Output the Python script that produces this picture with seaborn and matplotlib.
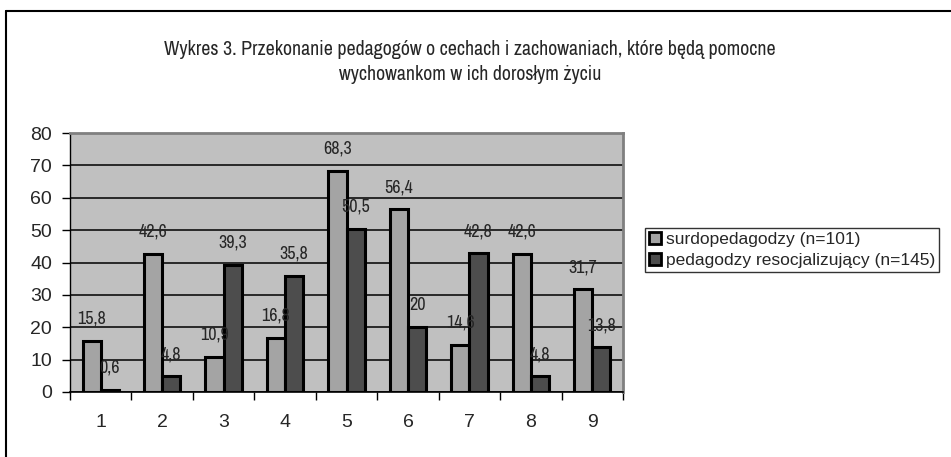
import pandas as pd
import numpy as np
import matplotlib
matplotlib.use('Agg')
import matplotlib.pyplot as plt
import matplotlib.font_manager as fm
from matplotlib.lines import Line2D
import seaborn as sns

# ================== dane ==================
kategorie = ['1', '2', '3', '4', '5', '6', '7', '8', '9']
surdo = [15.8, 42.6, 10.9, 16.8, 68.3, 56.4, 14.6, 42.6, 31.7]
resoc = [0.6, 4.8, 39.3, 35.8, 50.5, 20.0, 42.8, 4.8, 13.8]
serie = ['surdopedagodzy (n=101)', 'pedagodzy resocjalizujący (n=145)']
kolory = ['#A4A4A4', '#4D4D4D']
tytul = ('Wykres 3. Przekonanie pedagogów o cechach i zachowaniach, które będą pomocne\n'
         'wychowankom w ich dorosłym życiu')

df = pd.DataFrame({
    'kat': kategorie * 2,
    'wartosc': surdo + resoc,
    'grupa': [serie[0]] * len(kategorie) + [serie[1]] * len(kategorie),
})

# ================== czcionki ==================
sns.set_style('white')
dostepne = sorted({f.name for f in fm.fontManager.ttflist})
preferowane = ['Liberation Sans Narrow', 'Arial Narrow']
waskie = [n for n in preferowane if n in dostepne] + \
         [n for n in dostepne if 'Narrow' in n or 'Condensed' in n]
waska = waskie[0] if waskie else 'Liberation Sans'
plt.rcParams['font.family'] = ['Liberation Sans', 'DejaVu Sans']

# ================== wykres ==================
fig = plt.figure(figsize=(9.51, 4.57), dpi=100)
ax = fig.add_axes([70 / 951, 65 / 457, 553 / 951, 259 / 457])
ax.set_facecolor('#C0C0C0')

sns.barplot(data=df, x='kat', y='wartosc', hue='grupa', palette=kolory,
            width=0.59, gap=0, edgecolor='black', linewidth=2.2,
            saturation=1, ax=ax, legend=False, zorder=3)

ax.set_xlim(-0.5, len(kategorie) - 0.5)
ax.set_ylim(0, 80)
ax.set_yticks(range(0, 81, 10))
ax.yaxis.grid(True, color='black', linewidth=1.1, zorder=1)
ax.set_axisbelow(True)
ax.set_xlabel('')
ax.set_ylabel('')

# osie w stylu Excela: znaczniki między kategoriami
ax.set_xticks(np.arange(-0.5, len(kategorie), 1.0))
ax.set_xticklabels([])
ax.set_xticks(range(len(kategorie)), minor=True)
ax.set_xticklabels(kategorie, minor=True, fontsize=14)
ax.tick_params(axis='x', which='major', direction='out', length=6, width=1, color='black', bottom=True)
ax.tick_params(axis='x', which='minor', length=0, pad=16)
ax.tick_params(axis='y', direction='out', length=6, width=1, color='black', left=True, labelsize=14, pad=7)

for s in ['top', 'right']:
    ax.spines[s].set_color('#808080')
    ax.spines[s].set_linewidth(2)
ax.spines['left'].set_color('black')
ax.spines['bottom'].set_color('black')
ax.spines['left'].set_linewidth(1)
ax.spines['bottom'].set_linewidth(1.2)

# etykiety wartości
for cont in ax.containers:
    for bar in cont:
        v = bar.get_height()
        tekst = ('%g' % v).replace('.', ',')
        ax.annotate(tekst, (bar.get_x() + bar.get_width() / 2, v),
                    xytext=(0, 16), textcoords='offset points',
                    ha='center', va='center', fontsize=13,
                    family=[waska, 'DejaVu Sans'], zorder=5)

# tytuł
fig.text(470 / 951, 1 - 62 / 457, tytul, ha='center', va='center',
         fontsize=14.3, linespacing=1.45, family=[waska, 'DejaVu Sans'])

# legenda
uchwyty = [plt.Rectangle((0, 0), 1, 1, facecolor=c, edgecolor='black', linewidth=2) for c in kolory]
leg = fig.legend(uchwyty, serie, loc='upper left', bbox_to_anchor=(645 / 951, 1 - 228 / 457),
                 frameon=True, fancybox=False, edgecolor='black',
                 handlelength=0.7, handleheight=0.7, handletextpad=0.25,
                 borderpad=0.25, labelspacing=0.3, borderaxespad=0,
                 prop={'family': ['Liberation Sans', 'DejaVu Sans'], 'size': 12.5})
leg.get_frame().set_linewidth(1)

# ramka całego wykresu
fig.add_artist(Line2D([6 / 951, 1], [1 - 11 / 457, 1 - 11 / 457], color='black', linewidth=1.5))
fig.add_artist(Line2D([6 / 951, 6 / 951], [0, 1 - 11 / 457], color='black', linewidth=1.5))

fig.savefig('out.png', dpi=100)
